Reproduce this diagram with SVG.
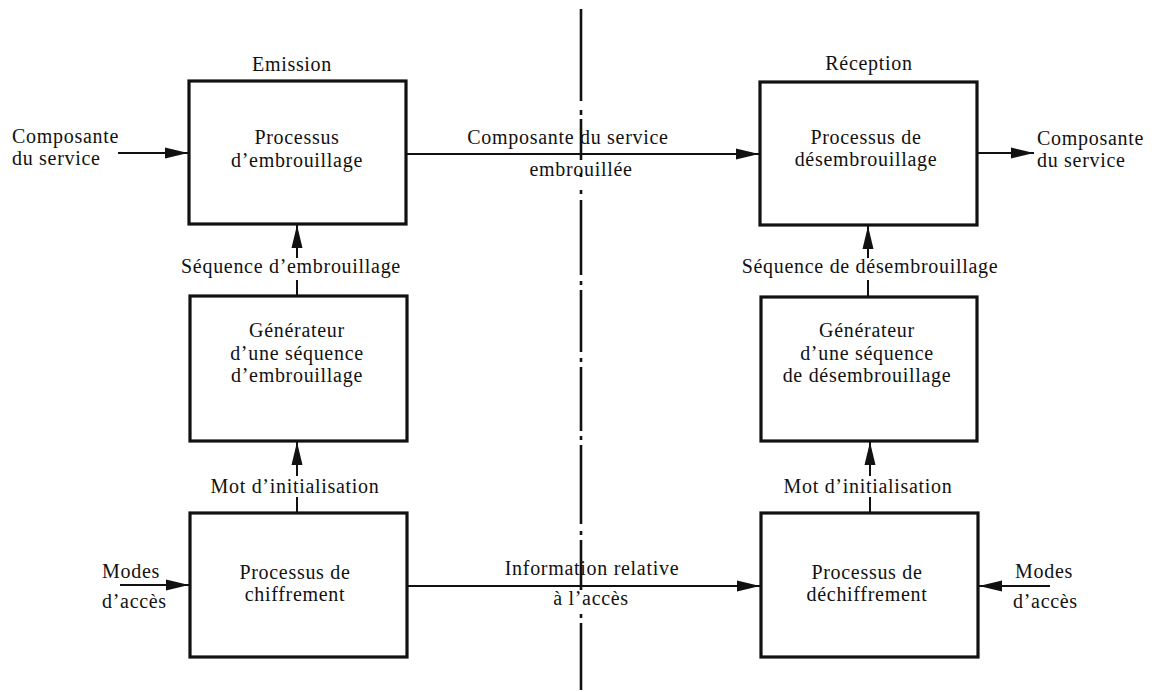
<svg xmlns="http://www.w3.org/2000/svg" width="1154" height="692" viewBox="0 0 1154 692">
<style>
text{font-family:"Liberation Serif","Times New Roman",serif;font-size:20px;letter-spacing:0.7px;fill:#111}
.c{text-anchor:middle}
.box{fill:none;stroke:#111;stroke-width:3.2}
.ln{fill:none;stroke:#111;stroke-width:2}
.axis{fill:none;stroke:#111;stroke-width:2.6}
</style>
<defs>
<marker id="ah" markerUnits="userSpaceOnUse" markerWidth="25" markerHeight="13" refX="23" refY="6.5" orient="auto">
<path d="M0,1 L23,6.5 L0,12 Z" fill="#111"/>
</marker>
</defs>
<rect width="1154" height="692" fill="#fff"/>
<g id="axis">
<path class="axis" d="M581,9 V101 M581,110 V115 M581,119 V160 M581,173 V177 M581,190 V194 M581,200 V275 M581,281 V285 M581,290 V352 M581,358 V362 M581,367 V431 M581,436 V440 M581,445 V524 M581,531 V535 M581,540 V590 M581,614 V618 M581,623 V690"/>
</g>
<g id="connectors">
<path class="ln" d="M118,153 H188" marker-end="url(#ah)"/>
<path class="ln" d="M406,154 H759" marker-end="url(#ah)"/>
<path class="ln" d="M977,153 H1034" marker-end="url(#ah)"/>
<path class="ln" d="M297,296 V280 M297,258 V225" marker-end="url(#ah)"/>
<path class="ln" d="M868,297 V280 M868,258 V226" marker-end="url(#ah)"/>
<path class="ln" d="M297,513 V497 M297,476 V442" marker-end="url(#ah)"/>
<path class="ln" d="M870,513 V497 M870,476 V442" marker-end="url(#ah)"/>
<path class="ln" d="M120,585 H189" marker-end="url(#ah)"/>
<path class="ln" d="M407,586 H760" marker-end="url(#ah)"/>
<path class="ln" d="M1050,586 H979" marker-end="url(#ah)"/>
</g>
<g id="emb">
<rect class="box" x="189" y="81" width="217" height="143"/>
<text class="c" x="297" y="144">Processus</text>
<text class="c" x="297" y="166.5">d’embrouillage</text>
</g>
<g id="desemb">
<rect class="box" x="760" y="82" width="217" height="143"/>
<text class="c" x="866" y="143.5">Processus de</text>
<text class="c" x="866" y="166">désembrouillage</text>
</g>
<g id="gen-emb">
<rect class="box" x="190" y="296" width="217" height="145"/>
<text class="c" x="297" y="337">Générateur</text>
<text class="c" x="297" y="359.5">d’une séquence</text>
<text class="c" x="297" y="382">d’embrouillage</text>
</g>
<g id="gen-desemb">
<rect class="box" x="761" y="297" width="216" height="144"/>
<text class="c" x="867" y="337">Générateur</text>
<text class="c" x="867" y="359.5">d’une séquence</text>
<text class="c" x="867" y="382">de désembrouillage</text>
</g>
<g id="chiffr">
<rect class="box" x="190" y="513" width="217" height="144"/>
<text class="c" x="295" y="578.5">Processus de</text>
<text class="c" x="295" y="601">chiffrement</text>
</g>
<g id="dechiffr">
<rect class="box" x="761" y="513" width="217" height="144"/>
<text class="c" x="867" y="578.5">Processus de</text>
<text class="c" x="867" y="601">déchiffrement</text>
</g>
<g id="labels">
<text class="c" x="292" y="71">Emission</text>
<text class="c" x="869" y="70">Réception</text>
<text x="12" y="142.5">Composante</text>
<text x="12" y="165">du service</text>
<text x="1037" y="144.5">Composante</text>
<text x="1037" y="167">du service</text>
<text class="c" x="568" y="144">Composante du service</text>
<text class="c" x="581" y="176">embrouillée</text>
<text class="c" x="291" y="273">Séquence d’embrouillage</text>
<text class="c" x="870" y="273">Séquence de désembrouillage</text>
<text class="c" x="295" y="493">Mot d’initialisation</text>
<text class="c" x="868" y="493">Mot d’initialisation</text>
<text x="102" y="578">Modes</text>
<text x="102" y="608">d’accès</text>
<text x="1015" y="578">Modes</text>
<text x="1013" y="608">d’accès</text>
<text class="c" x="592" y="575">Information relative</text>
<text class="c" x="591" y="605">à l’accès</text>
</g>
</svg>
